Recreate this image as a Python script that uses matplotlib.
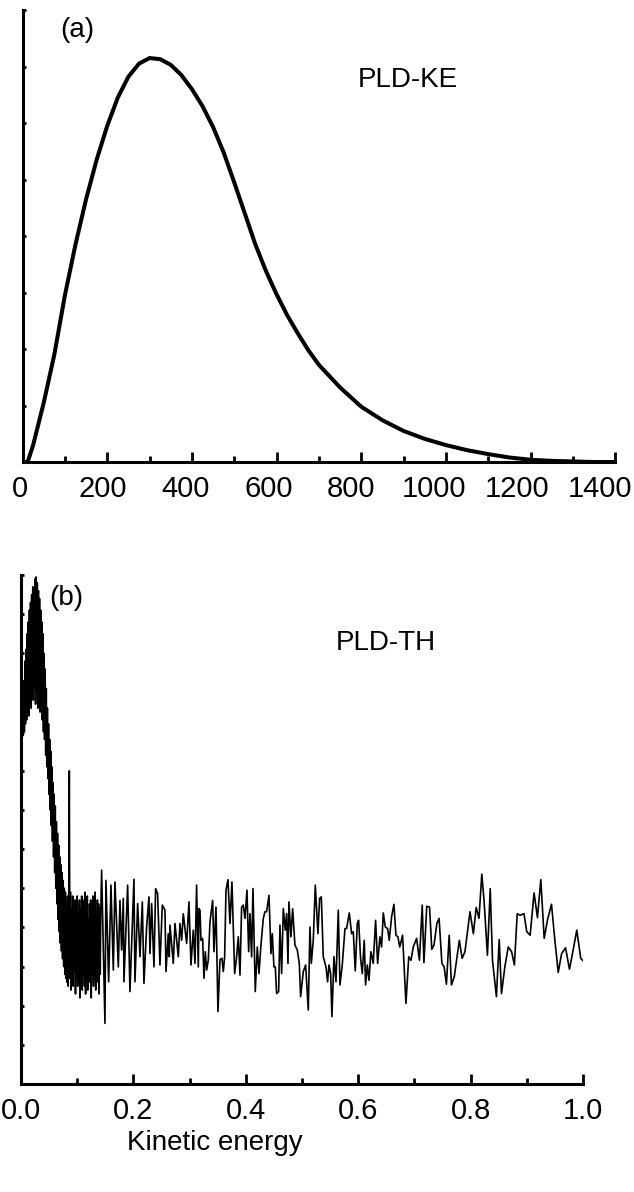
import numpy as np
import matplotlib
matplotlib.use('Agg')
import matplotlib.pyplot as plt
from matplotlib.ticker import MultipleLocator, FormatStrFormatter

plt.rcParams['font.family'] = ['Liberation Sans', 'DejaVu Sans']

# (a) PLD-KE : smooth distribution
ke_x = [0, 12, 25, 50, 75, 100, 125, 150, 175, 200, 225, 250, 275, 300, 325, 350,
        375, 400, 425, 450, 475, 500, 525, 550, 575, 600, 625, 650, 675, 700, 750,
        800, 850, 900, 950, 1000, 1050, 1100, 1150, 1200, 1250, 1300, 1350, 1400]
ke_y = [0, 0, 0.3, 1.05, 1.9, 2.95, 3.85, 4.65, 5.35, 5.95, 6.45, 6.82, 7.05, 7.15,
        7.13, 7.03, 6.85, 6.6, 6.3, 5.93, 5.48, 4.95, 4.4, 3.85, 3.38, 2.97, 2.6,
        2.28, 1.98, 1.72, 1.32, 0.98, 0.74, 0.55, 0.41, 0.30, 0.21, 0.14, 0.08,
        0.04, 0.02, 0.01, 0.0, 0.0]
ke_ticks = [0, 200, 400, 600, 800, 1000, 1200, 1400]

# (b) PLD-TH : noisy trace
# dense part near the origin (every 0.001)
th_x_dense = [round(0.001 * i, 3) for i in range(143)]
th_y_dense = [0.0, 9.0, 8.8, 9.8, 8.9, 10.3, 9.0, 10.8, 9.2, 11.1,
              9.3, 11.5, 9.5, 11.8, 9.4, 12.1, 9.7, 12.3, 9.6, 12.5,
              9.9, 12.7, 9.8, 12.6, 10.1, 12.9, 9.7, 12.95, 10.0, 12.8,
              9.6, 12.6, 9.9, 12.4, 9.5, 12.1, 9.8, 11.8, 9.3, 11.5,
              9.0, 11.0, 8.8, 10.6, 8.4, 10.1, 8.1, 9.6, 7.8, 9.2,
              7.4, 8.8, 7.0, 8.5, 6.6, 8.1, 6.2, 7.7, 5.8, 7.4,
              5.4, 7.1, 5.0, 6.7, 4.6, 6.4, 4.2, 6.1, 3.9, 5.8,
              3.6, 5.6, 3.4, 5.4, 3.2, 5.2, 3.0, 5.0, 2.8, 4.9,
              2.7, 4.7, 2.6, 4.8, 2.5, 4.6, 8.0, 2.7, 4.9, 2.4,
              4.5, 2.8, 4.8, 2.5, 4.4, 2.9, 4.7, 2.3, 4.6, 2.7,
              4.8, 2.5, 4.3, 2.9, 4.7, 2.2, 4.5, 2.6, 4.8, 2.4,
              4.4, 2.8, 4.7, 2.5, 4.9, 2.3, 4.5, 2.7, 4.8, 2.4,
              4.2, 2.9, 4.6, 2.6, 4.7, 2.2, 4.4, 2.8, 4.8, 2.5,
              4.5, 2.7, 4.9, 2.4, 4.3, 2.6, 4.7, 2.9, 4.6, 2.3,
              4.5, 2.8, 4.4]
# sparser part
th_x_sparse = [
    0.1435, 0.1494, 0.1512, 0.1560, 0.1601, 0.1643, 0.1672, 0.1732, 0.1761, 0.1791,
    0.1821, 0.1832, 0.1898, 0.1939, 0.2010, 0.2028, 0.2076, 0.2117, 0.2159, 0.2188,
    0.2236, 0.2277, 0.2295, 0.2325, 0.2366, 0.2396, 0.2431, 0.2473, 0.2515, 0.2562,
    0.2580, 0.2621, 0.2639, 0.2651, 0.2710, 0.2740, 0.2799, 0.2829, 0.2859, 0.2888,
    0.2948, 0.2989, 0.3025, 0.3066, 0.3096, 0.3125, 0.3155, 0.3167,
    0.3185, 0.3203, 0.3232, 0.3256, 0.3280, 0.3304, 0.3333, 0.3363, 0.3410, 0.3434,
    0.3470, 0.3505, 0.3541, 0.3576, 0.3600, 0.3624, 0.3648, 0.3683, 0.3719, 0.3754,
    0.3802, 0.3837, 0.3867, 0.3897, 0.3926, 0.3956, 0.3986, 0.4021, 0.4051, 0.4075,
    0.4104, 0.4128, 0.4169, 0.4205, 0.4235, 0.4270, 0.4312, 0.4341, 0.4371, 0.4413,
    0.4448, 0.4472, 0.4501, 0.4525, 0.4549, 0.4585, 0.4608, 0.4638, 0.4668, 0.4703,
    0.4727, 0.4751, 0.4768, 0.4804, 0.4834, 0.4875, 0.4917, 0.4952, 0.4976, 0.5023,
    0.5065, 0.5112, 0.5142, 0.5166, 0.5201, 0.5237, 0.5284, 0.5314, 0.5344, 0.5379,
    0.5427, 0.5456, 0.5480, 0.5510, 0.5533, 0.5569, 0.5605, 0.5646, 0.5676, 0.5717,
    0.5765, 0.5794, 0.5842, 0.5883, 0.5913, 0.5948, 0.5984, 0.6008, 0.6043, 0.6073,
    0.6108, 0.6132, 0.6162, 0.6192, 0.6227, 0.6268, 0.6310, 0.6346, 0.6387, 0.6417,
    0.6447, 0.6482, 0.6524, 0.6553, 0.6595, 0.6636, 0.6672, 0.6707,
    0.674, 0.679, 0.685, 0.690, 0.694, 0.698, 0.704, 0.709, 0.714, 0.717,
    0.722, 0.727, 0.731, 0.735, 0.740, 0.744, 0.749, 0.753, 0.757, 0.762,
    0.766, 0.771, 0.780, 0.785, 0.790, 0.799, 0.805, 0.810, 0.815, 0.820,
    0.824, 0.830, 0.835, 0.839, 0.846, 0.851, 0.855, 0.861, 0.867, 0.873,
    0.878, 0.883, 0.888, 0.895, 0.900, 0.906, 0.913, 0.919, 0.925, 0.931,
    0.937, 0.944, 0.950, 0.956, 0.962, 0.969, 0.976, 0.982, 0.989, 0.996, 1.000]
th_y_sparse = [
    5.46, 1.55, 5.20, 2.61, 5.08, 2.91, 5.16, 2.99, 4.69, 3.42,
    4.74, 2.61, 5.08, 2.36, 5.23, 2.61, 4.61, 3.25, 4.65, 2.57,
    4.01, 4.78, 3.33, 4.61, 2.99, 4.99, 4.86, 3.04, 4.57, 4.44,
    2.87, 3.84, 3.25, 4.06, 3.08, 4.10, 3.25, 4.10, 3.67, 4.35,
    3.59, 4.65, 3.04, 3.93, 3.08, 5.08, 2.99, 4.48,
    4.44, 3.67, 3.72, 2.70, 3.38, 2.91, 3.16, 4.14, 4.69, 3.38,
    4.52, 1.85, 3.18, 3.21, 2.87, 3.25, 4.95, 5.22, 4.10, 5.16,
    2.82, 3.25, 3.76, 2.78, 4.52, 4.57, 4.23, 4.95, 3.38, 4.35,
    3.25, 4.99, 2.36, 3.50, 2.82, 3.55, 4.23, 4.40, 4.40, 4.82,
    3.33, 3.84, 2.99, 2.99, 2.31, 2.36, 4.06, 2.82, 4.48, 3.93,
    4.35, 3.08, 4.65, 3.76, 4.48, 3.55, 3.42, 3.08, 2.23, 2.87,
    3.04, 1.89, 4.01, 3.08, 3.67, 5.08, 3.84, 4.74, 4.78, 3.25,
    2.99, 2.61, 3.04, 2.82, 1.72, 3.25, 2.61, 4.44, 2.53, 3.04,
    3.97, 3.97, 4.37, 3.84, 3.89, 2.89, 4.10, 4.18, 3.21, 2.82,
    3.67, 2.53, 3.04, 2.65, 3.38, 3.08, 4.18, 3.08, 3.76, 3.50,
    4.37, 4.01, 3.97, 3.67, 4.27, 4.59, 3.80, 3.76,
    3.50, 3.80, 2.06, 3.25, 3.16, 3.50, 3.72, 3.16, 4.57, 3.10,
    4.54, 4.52, 3.44, 3.55, 4.10, 4.23, 3.08, 2.99, 2.55, 3.80,
    2.53, 2.74, 3.67, 3.21, 3.38, 4.40, 3.84, 4.51, 4.23, 5.36,
    4.69, 3.29, 4.99, 3.16, 2.23, 3.69, 2.31, 2.99, 3.50, 3.38,
    3.04, 4.35, 4.31, 4.35, 3.89, 3.80, 4.88, 4.25, 5.22, 3.72,
    4.20, 4.59, 3.67, 2.85, 3.33, 3.48, 2.93, 3.38, 3.93, 3.21, 3.15]
th_x = th_x_dense + th_x_sparse
th_y = th_y_dense + th_y_sparse


def px(x, y):
    # figure fraction from pixel position (origin top-left)
    return x / 634.0, 1.0 - y / 1192.0


def style(ax, major_len, minor_len):
    for s in ['top', 'right']:
        ax.spines[s].set_visible(False)
    for s in ['left', 'bottom']:
        ax.spines[s].set_linewidth(2.2)
    ax.tick_params(axis='x', which='major', direction='in', length=major_len,
                   width=2, labelsize=21, pad=9)
    ax.tick_params(axis='x', which='minor', direction='in', length=minor_len, width=2)
    ax.tick_params(axis='y', which='major', direction='in', length=2.5, width=2,
                   labelleft=False)


fig = plt.figure(figsize=(6.34, 11.92), dpi=100)

# upper panel
ax1 = fig.add_axes([0.0356, 0.6124, 0.9347, 0.3792])
ax1.plot(ke_x, ke_y, color='black', lw=2.9, solid_joinstyle='round')
ax1.set_xlim(0, 1400)
ax1.set_ylim(0, 8)
ax1.xaxis.set_major_locator(MultipleLocator(200))
ax1.xaxis.set_minor_locator(MultipleLocator(100))
ax1.yaxis.set_major_locator(MultipleLocator(1))
style(ax1, 7, 4.5)
ax1.tick_params(axis='x', labelbottom=False)
# the labels in the original drift slightly left of their ticks
for t in ke_ticks:
    ax1.annotate(str(t), xy=(t, 0), xycoords=('data', 'axes fraction'),
                 xytext=(-(2.6 + 0.0089 * t) * 0.72, -9), textcoords='offset points',
                 ha='center', va='top', fontsize=21)

# lower panel
ax2 = fig.add_axes([0.0331, 0.0906, 0.8864, 0.4270])
ax2.plot(th_x, th_y, color='black', lw=1.2)
ax2.set_xlim(0, 1.0)
ax2.set_ylim(0, 13)
ax2.xaxis.set_major_locator(MultipleLocator(0.2))
ax2.xaxis.set_minor_locator(MultipleLocator(0.1))
ax2.xaxis.set_major_formatter(FormatStrFormatter('%.1f'))
ax2.yaxis.set_major_locator(MultipleLocator(1))
style(ax2, 7, 4.5)

fig.text(*px(77, 30), '(a)', fontsize=20, ha='center', va='center')
fig.text(*px(408, 80), 'PLD-KE', fontsize=20, ha='center', va='center')
fig.text(*px(66, 598), '(b)', fontsize=20, ha='center', va='center')
fig.text(*px(386, 643), 'PLD-TH', fontsize=20, ha='center', va='center')
fig.text(*px(215, 1143), 'Kinetic energy', fontsize=20, ha='center', va='center')

fig.savefig('out.png', dpi=100)
